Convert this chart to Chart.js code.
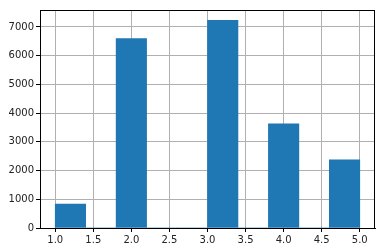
<!DOCTYPE html>
<html>
<head>
<meta charset="utf-8">
<script src="https://cdn.jsdelivr.net/npm/chart.js@4/dist/chart.umd.min.js"></script>
<style>
  html, body { margin: 0; padding: 0; background: #fff; }
  #wrap { width: 385px; height: 252px; }
</style>
</head>
<body>
<div id="wrap"><canvas id="c" width="385" height="252"></canvas></div>
<script>
const binEdges = [1.0, 1.4, 1.8, 2.2, 2.6, 3.0, 3.4, 3.8, 4.2, 4.6, 5.0];
const counts   = [835, 0, 6600, 0, 0, 7230, 0, 3630, 0, 2370];
const xTicks = [1.0, 1.5, 2.0, 2.5, 3.0, 3.5, 4.0, 4.5, 5.0];
const yTicks = [0, 1000, 2000, 3000, 4000, 5000, 6000, 7000];

const points = counts.map((v, i) => ({ x: (binEdges[i] + binEdges[i + 1]) / 2, y: v }));
const xSpan = binEdges[binEdges.length - 1] - binEdges[0];
const xMin = binEdges[0] - xSpan * 0.05;
const xMax = binEdges[binEdges.length - 1] + xSpan * 0.05;
const yMax = Math.max(...counts) * 1.05;

const frame = {
  id: 'frame',
  afterDraw(chart) {
    const a = chart.chartArea, ctx = chart.ctx;
    ctx.save();
    ctx.strokeStyle = '#000';
    ctx.lineWidth = 1;
    ctx.strokeRect(Math.round(a.left) + 0.5, Math.round(a.top) + 0.5,
                   Math.round(a.right - a.left) - 1, Math.round(a.bottom - a.top));
    ctx.restore();
  }
};

new Chart(document.getElementById('c'), {
  type: 'bar',
  data: {
    datasets: [{
      data: points,
      backgroundColor: '#1f77b4',
      borderWidth: 0,
      barPercentage: 1.0,
      categoryPercentage: 1.0
    }]
  },
  options: {
    responsive: false,
    animation: false,
    events: [],
    layout: { padding: { top: 10, right: 10, left: 0, bottom: 0 } },
    plugins: { legend: { display: false }, tooltip: { enabled: false } },
    scales: {
      x: {
        type: 'linear',
        min: xMin,
        max: xMax,
        offset: false,
        z: 1,
        afterBuildTicks: s => { s.ticks = xTicks.map(v => ({ value: v })); },
        afterFit: s => { s.height = 24; },
        grid: { offset: false, color: '#b0b0b0', lineWidth: 1, tickColor: '#000', tickLength: 4, drawOnChartArea: true },
        border: { display: true, color: '#000' },
        ticks: {
          color: '#222',
          font: { family: 'DejaVu Sans', size: 10 },
          padding: 2,
          maxRotation: 0,
          autoSkip: false,
          callback: v => Number(v).toFixed(1)
        }
      },
      y: {
        min: 0,
        max: yMax,
        z: 1,
        afterBuildTicks: s => { s.ticks = yTicks.map(v => ({ value: v })); },
        afterFit: s => { s.width = 40; },
        grid: { offset: false, color: '#b0b0b0', lineWidth: 1, tickColor: '#000', tickLength: 4 },
        border: { display: true, color: '#000' },
        ticks: {
          color: '#222',
          font: { family: 'DejaVu Sans', size: 10 },
          padding: 2,
          autoSkip: false,
          callback: v => String(v)
        }
      }
    }
  },
  plugins: [frame]
});
</script>
</body>
</html>
